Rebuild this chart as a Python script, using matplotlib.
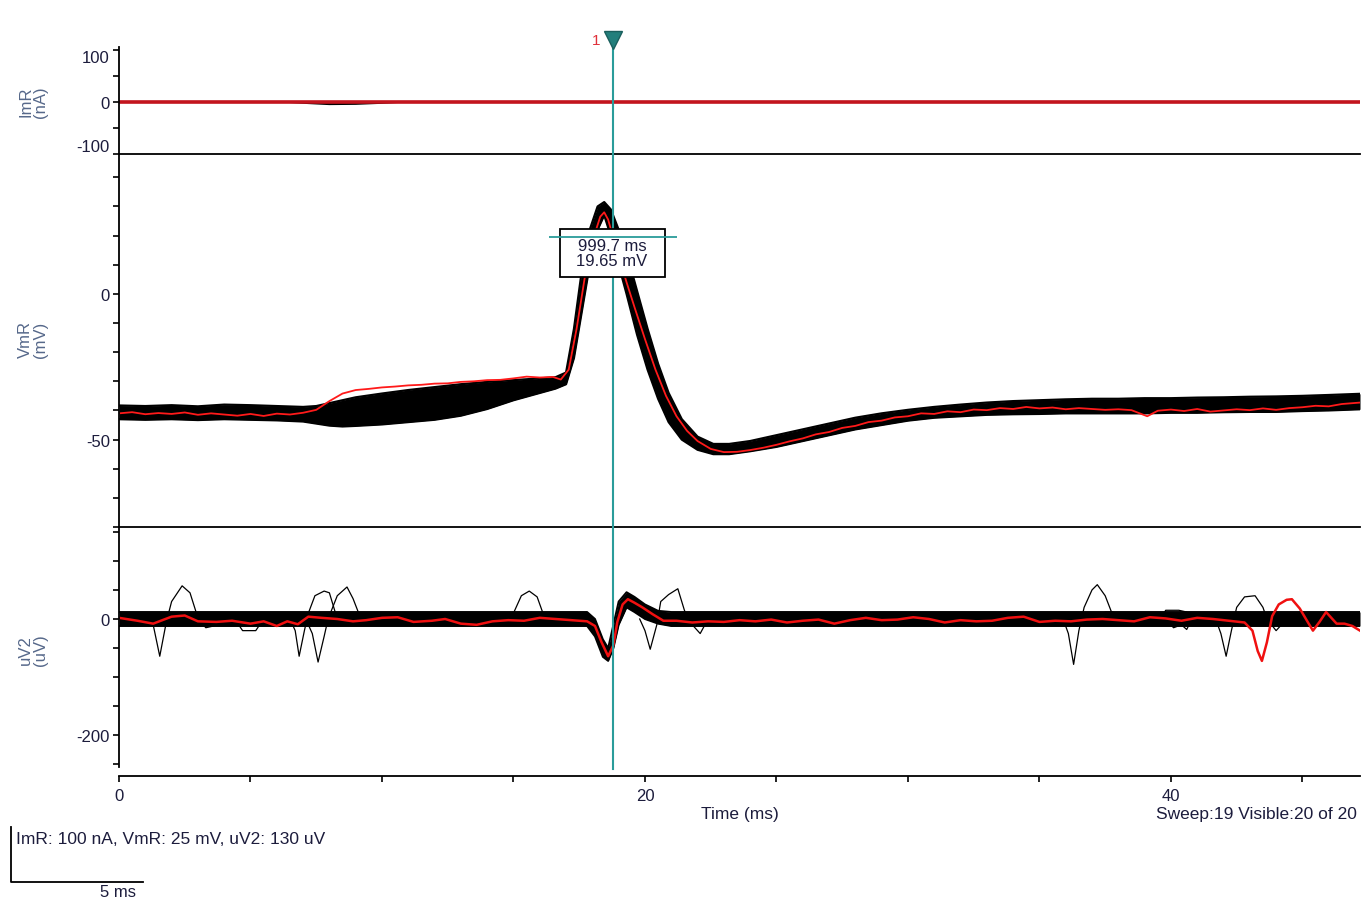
import matplotlib.pyplot as plt
import numpy as np
from matplotlib.lines import Line2D
from matplotlib.patches import Rectangle
from matplotlib.transforms import blended_transform_factory

plt.rcParams['font.family'] = ['Liberation Sans', 'DejaVu Sans']

W, H = 1364, 904

# sweep window / cursor
t_end = 47.19
cursor_t = 18.78
cursor_mv = 19.65
cursor_text = "999.7 ms\n19.65 mV"

# ImR (nA)
imr_red = [(0, 0), (47.19, 0)]
imr_black = [(0, 0), (6.5, 0), (7.2, -2), (8.0, -4), (9.0, -3.5), (10.0, -1.5), (10.6, 0), (47.19, 0)]

# VmR (mV), last (red) sweep
vm_red = [
    (0.0, -41.0), (0.5, -40.6), (1.0, -41.3), (1.5, -40.9), (2.0, -41.2), (2.5, -40.7),
    (3.0, -41.5), (3.5, -41.0), (4.0, -41.4), (4.5, -41.8), (5.0, -41.2), (5.5, -41.9),
    (6.0, -41.1), (6.5, -41.4), (7.0, -40.8), (7.5, -39.8), (8.0, -36.8), (8.5, -34.2),
    (9.0, -33.0), (9.5, -32.6), (10.0, -32.1), (10.5, -31.8), (11.0, -31.4), (11.5, -31.2),
    (12.0, -30.8), (12.5, -30.7), (13.0, -30.2), (13.5, -30.0), (14.0, -29.6), (14.5, -29.5),
    (15.0, -29.0), (15.5, -28.4), (16.0, -28.7), (16.5, -28.5), (16.8, -29.4), (17.1, -26.0),
    (17.4, -12.0), (17.7, 5.0), (18.0, 18.0), (18.3, 26.5), (18.45, 28.0), (18.6, 25.5),
    (18.78, 19.65), (19.0, 13.0), (19.3, 4.0), (19.6, -4.5), (20.0, -15.5), (20.4, -26.0),
    (20.8, -35.0), (21.2, -42.0), (21.6, -47.0), (22.0, -50.5), (22.5, -53.2), (23.0, -54.3),
    (23.5, -54.2), (24.0, -53.6), (24.5, -52.8), (25.0, -51.8), (25.5, -50.6), (26.0, -49.6),
    (26.5, -48.2), (27.0, -47.4), (27.5, -46.0), (28.0, -45.3), (28.5, -44.0), (29.0, -43.5),
    (29.5, -42.4), (30.0, -42.0), (30.5, -41.0), (31.0, -41.2), (31.5, -40.3), (32.0, -40.6),
    (32.5, -39.7), (33.0, -39.9), (33.5, -39.2), (34.0, -39.5), (34.5, -38.8), (35.0, -39.3),
    (35.5, -39.0), (36.0, -39.6), (36.5, -39.2), (37.0, -39.5), (37.5, -39.8), (38.0, -39.6),
    (38.5, -39.9), (39.1, -42.0), (39.5, -40.1), (40.0, -39.7), (40.5, -40.2), (41.0, -39.5),
    (41.5, -40.4), (42.0, -40.0), (42.5, -39.6), (43.0, -39.9), (43.5, -39.3), (44.0, -39.8),
    (44.5, -39.2), (45.0, -38.9), (45.5, -38.4), (46.0, -38.6), (46.5, -37.8), (47.19, -37.3),
]

# VmR, spread of the other 19 sweeps: (t, low, high)
vm_band = [
    (0, -43.0, -38.3), (1, -43.2, -38.5), (2, -43.0, -38.2), (3, -43.3, -38.6), (4, -43.0, -38.0),
    (5, -43.2, -38.2), (6, -43.4, -38.5), (7, -43.8, -38.8), (7.5, -44.5, -38.5), (8, -45.2, -37.5),
    (8.5, -45.5, -36.5), (9, -45.3, -35.5), (10, -44.8, -34.2), (11, -44.0, -33.0), (12, -43.2, -32.0),
    (13, -41.8, -31.0), (14, -39.5, -30.2), (15, -36.5, -29.6), (16, -34.0, -29.0), (16.6, -32.5, -28.6),
    (17.0, -31.0, -27.0), (17.3, -22.0, -12.0), (17.6, -6.0, 8.0), (17.9, 10.0, 22.0), (18.2, 22.0, 30.0),
    (18.45, 27.0, 31.5), (18.7, 20.0, 29.0), (19.0, 10.0, 22.0), (19.3, 0.0, 14.0), (19.7, -14.0, 1.0),
    (20.1, -26.0, -12.0), (20.5, -36.0, -24.0), (20.9, -44.0, -34.0), (21.4, -50.0, -43.0),
    (22.0, -53.5, -49.0), (22.6, -55.0, -51.5), (23.2, -55.0, -51.5), (24, -54.0, -50.5),
    (25, -52.5, -48.5), (26, -50.5, -46.5), (27, -48.5, -44.5), (28, -46.5, -42.5), (29, -45.0, -41.0),
    (30, -43.5, -39.8), (31, -42.5, -38.8), (32, -42.0, -38.0), (33, -41.5, -37.3), (34, -41.3, -36.8),
    (35, -41.2, -36.5), (36, -41.0, -36.2), (37, -41.0, -36.0), (38, -41.0, -36.0), (39, -41.0, -35.8),
    (40, -40.8, -35.8), (41, -40.8, -35.6), (42, -40.6, -35.5), (43, -40.5, -35.3), (44, -40.5, -35.2),
    (45, -40.2, -35.0), (46, -40.0, -34.7), (47.19, -39.6, -34.3),
]

# uV2 (uV), red sweep
uv_red = [
    (0, 2), (0.7, -3), (1.3, -8), (2.0, 4), (2.5, 6), (3.0, -4), (3.7, -5), (4.3, -3), (5.0, -8),
    (5.5, -4), (6.0, -12), (6.4, -4), (6.8, -9), (7.2, 4), (7.7, 2), (8.3, 0), (8.9, -4), (9.4, -2),
    (10.0, 2), (10.6, 3), (11.2, -5), (11.9, -3), (12.4, 0), (13.0, -8), (13.6, -10), (14.2, -4),
    (14.8, -2), (15.4, -3), (16.0, 2), (16.6, 0), (17.2, -2), (17.8, -4), (18.1, -12), (18.35, -40),
    (18.6, -64), (18.8, -45), (18.95, -5), (19.15, 25), (19.35, 34), (19.6, 28), (19.9, 20), (20.3, 8),
    (20.7, -3), (21.2, -3), (21.8, -6), (22.4, -4), (23.0, -5), (23.6, -2), (24.2, -4), (24.8, -1),
    (25.4, -6), (26.0, -3), (26.6, -1), (27.2, -8), (27.8, -2), (28.4, 2), (29.0, -2), (29.6, -1),
    (30.2, 3), (30.8, 0), (31.4, -6), (32.0, -2), (32.6, -4), (33.2, -3), (33.8, 2), (34.4, 4),
    (35.0, -5), (35.6, -3), (36.2, -4), (36.8, -1), (37.4, 0), (38.0, -2), (38.6, -4), (39.2, 3),
    (39.8, 1), (40.4, -3), (41.0, 2), (41.6, 0), (42.2, -3), (42.8, -6), (43.1, -20), (43.3, -55),
    (43.46, -72), (43.65, -40), (43.85, 5), (44.1, 25), (44.4, 33), (44.6, 34), (44.9, 18), (45.2, -5),
    (45.4, -20), (45.65, -5), (45.9, 12), (46.1, 2), (46.3, -8), (46.6, -8), (46.9, -12), (47.19, -20),
]

# uV2, spread of the other sweeps: (t, low, high)
uv_band = [
    (0, -12, 12), (17.8, -12, 12), (18.1, -30, 0), (18.4, -65, -35), (18.6, -72, -50),
    (18.8, -50, -10), (19.0, -10, 30), (19.3, 20, 46), (19.6, 12, 38), (20.0, 0, 25),
    (20.5, -8, 14), (21.0, -12, 12), (47.19, -12, 12),
]

# uV2, single-sweep events in the black sweeps
uv_events = [
    [(1.0, 0), (1.3, -10), (1.55, -64), (1.8, -5), (2.0, 30), (2.4, 57), (2.7, 45), (3.0, 2), (3.3, -15), (3.6, -12), (3.9, 0)],
    [(4.4, 0), (4.7, -20), (5.2, -20), (5.5, 0)],
    [(6.5, 0), (6.7, -20), (6.85, -64), (7.05, -20), (7.2, 10), (7.45, 40), (7.8, 48), (8.0, 45), (8.3, 0), (8.6, -10), (8.9, 0)],
    [(7.1, 0), (7.35, -25), (7.57, -74), (7.8, -30), (7.95, 0), (8.3, 40), (8.67, 55), (8.9, 35), (9.2, 0), (9.6, -5)],
    [(14.8, 0), (15.0, 10), (15.3, 40), (15.6, 48), (15.9, 38), (16.2, 0), (16.5, -5), (16.8, 0)],
    [(19.8, 0), (20.0, -20), (20.2, -52), (20.45, -10), (20.6, 30), (20.9, 42), (21.25, 52), (21.5, 15), (21.7, -5), (22.1, -25), (22.4, 0)],
    [(35.9, 0), (36.1, -25), (36.3, -78), (36.5, -20), (36.7, 20), (37.0, 50), (37.2, 59), (37.5, 40), (37.8, 5), (38.0, 0)],
    [(37.3, 0), (37.5, 12), (37.8, 12), (38.0, 0)],
    [(39.6, 0), (39.8, 15), (40.3, 15), (40.6, 12), (40.8, 0)],
    [(39.8, 0), (40.1, -15), (40.4, -10), (40.6, -18), (40.8, 0)],
    [(41.7, 0), (41.9, -25), (42.1, -64), (42.3, -20), (42.5, 20), (42.8, 38), (43.2, 40), (43.5, 20), (43.65, 0), (44.0, -20), (44.3, -5), (44.6, 0)],
]

teal = '#2a9c9a'
navy = '#1c1c3c'
label_col = '#56688a'


def px_rect(l, t, r, b):
    return [l / W, 1 - b / H, (r - l) / W, (b - t) / H]


def cols(pairs):
    return np.array(pairs, dtype=float).T


fig = plt.figure(figsize=(W / 100, H / 100), dpi=100)
ax_i = fig.add_axes(px_rect(119, 48, 1360, 155))
ax_v = fig.add_axes(px_rect(119, 155, 1360, 528))
ax_u = fig.add_axes(px_rect(119, 528, 1360, 777))

for ax in (ax_i, ax_v, ax_u):
    ax.set_xlim(0, t_end)
    ax.spines['top'].set_visible(False)
    ax.spines['right'].set_visible(False)
    ax.spines['left'].set_linewidth(1.3)
    ax.spines['bottom'].set_linewidth(1.3)
    ax.patch.set_alpha(0)
    ax.tick_params(axis='y', length=4, width=1.2, pad=2.5, labelsize=12, labelcolor=navy)
    ax.tick_params(axis='x', length=4.5, width=1.2, pad=4, labelsize=12, labelcolor=navy)

for ax in (ax_i, ax_v):
    ax.set_xticks([])

ax_i.set_ylim(-100, 105.8)
ax_v.set_ylim(-80, 48)
ax_u.set_ylim(-269.8, 158.1)
ax_u.spines['left'].set_bounds(-255, 158.1)

ax_i.set_yticks([100, 50, 0, -50, -100])
ax_i.set_yticklabels(['100', '', '0', '', '-100'])
labs = ax_i.get_yticklabels()
labs[0].set_va('top')
labs[4].set_va('bottom')

vt = list(range(-80, 41, 10))
ax_v.set_yticks(vt)
ax_v.set_yticklabels([str(v) if v in (0, -50) else '' for v in vt])

ut = list(range(-250, 151, 50))
ax_u.set_yticks(ut)
ax_u.set_yticklabels([str(v) if v in (0, -200) else '' for v in ut])

xt = list(range(0, 46, 5))
ax_u.set_xticks(xt)
ax_u.set_xticklabels([str(v) if v % 20 == 0 else '' for v in xt])

# ImR
t, v = cols(imr_black)
ax_i.plot(t, v, color='black', lw=1.5)
t, v = cols(imr_red)
ax_i.plot(t, v, color='#c3141e', lw=2.6)

# VmR
t, lo, hi = cols(vm_band)
ax_v.fill_between(t, lo, hi, color='black', lw=0)
ax_v.plot(t, lo, color='black', lw=1.6)
ax_v.plot(t, hi, color='black', lw=1.6)
t, v = cols(vm_red)
ax_v.plot(t, v, color='#ff1a1a', lw=1.3)

# uV2
t, lo, hi = cols(uv_band)
ax_u.fill_between(t, lo, hi, color='black', lw=0)
ax_u.plot(t, lo, color='black', lw=1.4)
ax_u.plot(t, hi, color='black', lw=1.4)
for ev in uv_events:
    t, v = cols(ev)
    ax_u.plot(t, v, color='black', lw=0.9)
t, v = cols(uv_red)
ax_u.plot(t, v, color='#f01010', lw=1.8)

# cursor
ax_i.axvline(cursor_t, ymin=0, ymax=1.075, color=teal, lw=1.5, clip_on=False, zorder=5)
ax_v.axvline(cursor_t, color=teal, lw=1.5, zorder=5)
ax_u.axvline(cursor_t, ymin=(-258 + 269.8) / 427.9, ymax=1, color=teal, lw=1.5, zorder=5)
tr = blended_transform_factory(ax_i.transData, ax_i.transAxes)
ax_i.plot([cursor_t], [1.07], marker='v', markersize=13, color='#237f7c', mec='#1a5f5d',
          transform=tr, clip_on=False, zorder=6)
ax_i.text(cursor_t - 0.62, 1.07, '1', color='#e0303a', fontsize=11, ha='center', va='center',
          transform=tr)

ax_v.add_patch(Rectangle((16.77, 5.83), 3.99, 16.5, facecolor='white', edgecolor='black',
                         lw=1.3, zorder=6))
ax_v.text(cursor_t - 0.03, 14.1, cursor_text, ha='center', va='center', fontsize=12,
          color=navy, linespacing=1.0, zorder=7)
ax_v.hlines(cursor_mv, cursor_t - 2.42, cursor_t + 2.42, color=teal, lw=1.3, zorder=8)

# labels
for y, txt in ((102, 'ImR\n(nA)'), (340, 'VmR\n(mV)'), (650, 'uV2\n(uV)')):
    fig.text(33 / W, 1 - y / H, txt, rotation=90, ha='center', va='center', fontsize=12,
             color=label_col, multialignment='center', linespacing=1.0)

fig.text(740 / W, 1 - 815 / H, 'Time (ms)', ha='center', va='center', fontsize=12.5, color=navy)
fig.text(1357 / W, 1 - 815 / H, 'Sweep:19 Visible:20 of 20', ha='right', va='center',
         fontsize=12.5, color=navy)
fig.text(16 / W, 1 - 840 / H, 'ImR: 100 nA, VmR: 25 mV, uV2: 130 uV', ha='left', va='center',
         fontsize=12.5, color=navy)
fig.text(118 / W, 1 - 893 / H, '5 ms', ha='center', va='center', fontsize=12, color=navy)

# scale bar
fig.add_artist(Line2D([11 / W, 11 / W, 143 / W], [1 - 828 / H, 1 - 883 / H, 1 - 883 / H],
                      color='black', lw=1.3))

fig.savefig('out.png', dpi=100)
